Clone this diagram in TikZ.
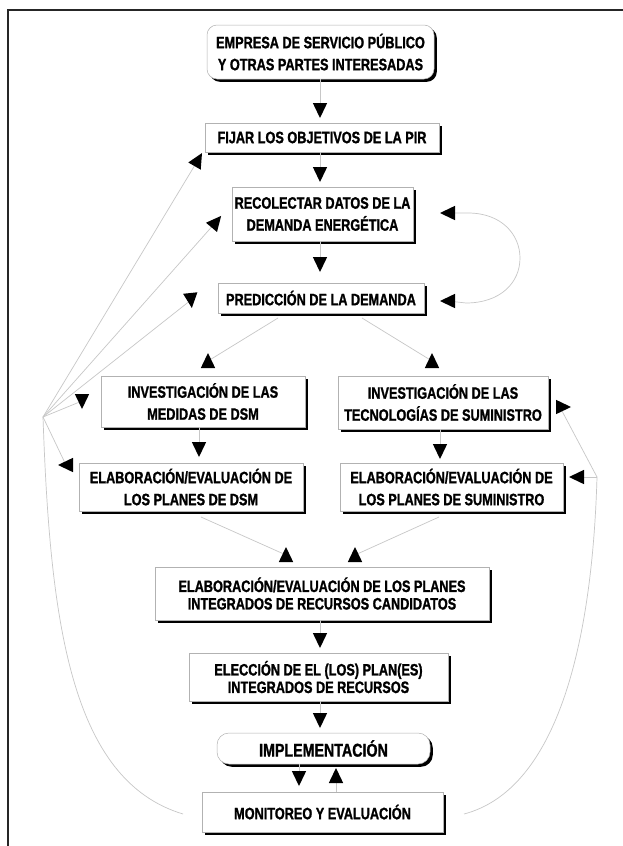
\documentclass[tikz,border=0pt]{standalone}
\usepackage{fontspec}
\newfontfamily\cf[FakeStretch=0.77,FakeBold=1.2]{Liberation Sans}
\usetikzlibrary{shadows,calc}
\begin{document}
\begin{tikzpicture}[x=1pt,y=-1pt,
  box/.style={draw=black!30, line width=0.5pt, fill=white, inner sep=0pt, align=center,
     font=\cf\bfseries\fontsize{16.5}{22}\selectfont,
     drop shadow={shadow xshift=2.8pt,shadow yshift=-2.8pt,opacity=1,fill=black}},
  tight/.style={font=\cf\bfseries\fontsize{16.5}{17.5}\selectfont},
  rbox/.style={box, rounded corners=10pt},
  conn/.style={draw=black!22, line width=0.7pt},
  tri/.pic={\fill[black] (8,0) -- (-7,7.2) -- (-7,-7.2) -- cycle;}]
\useasboundingbox (0,0) rectangle (623,846);
\fill[white] (0,0) rectangle (623,846);
\draw[line width=1.4pt, black!85] (8,846) -- (8,10) -- (623,10);

% boxes
\node[rbox, minimum width=227pt, minimum height=54pt] (b1) at (320.5,52) {EMPRESA DE SERVICIO PÚBLICO\\Y OTRAS PARTES INTERESADAS};
\node[box, minimum width=234pt, minimum height=29pt] (b2) at (322,137.5) {FIJAR LOS OBJETIVOS DE LA PIR};
\node[box, minimum width=181pt, minimum height=54pt] (b3) at (322.5,214) {RECOLECTAR DATOS DE LA\\DEMANDA ENERGÉTICA};
\node[box, minimum width=206pt, minimum height=30pt] (b4) at (321,298) {PREDICCIÓN DE LA DEMANDA};
\node[box, minimum width=204pt, minimum height=51pt] (b5) at (203,401.5) {INVESTIGACIÓN DE LAS\\MEDIDAS DE DSM};
\node[box, minimum width=210pt, minimum height=53pt] (b6) at (443,402.5) {INVESTIGACIÓN DE LAS\\TECNOLOGÍAS DE SUMINISTRO};
\node[box, minimum width=224pt, minimum height=48pt] (b7) at (191,487) {ELABORACIÓN/EVALUACIÓN DE\\LOS PLANES DE DSM};
\node[box, minimum width=223pt, minimum height=48pt] (b8) at (451.5,487) {ELABORACIÓN/EVALUACIÓN DE\\LOS PLANES DE SUMINISTRO};
\node[box, tight, minimum width=334pt, minimum height=53pt] (b9) at (322,593.5) {ELABORACIÓN/EVALUACIÓN DE LOS PLANES\\INTEGRADOS DE RECURSOS CANDIDATOS};
\node[box, tight, minimum width=259pt, minimum height=48pt] (b10) at (318.5,677) {ELECCIÓN DE EL (LOS) PLAN(ES)\\INTEGRADOS DE RECURSOS};
\node[box, rounded corners=12pt, font=\cf\bfseries\fontsize{18.5}{20}\selectfont, minimum width=213pt, minimum height=31pt] (b11) at (323.5,748.5) {IMPLEMENTACIÓN};
\node[box, minimum width=241pt, minimum height=40pt] (b12) at (322.5,812) {MONITOREO Y EVALUACIÓN};

% arrowhead positions
\coordinate (ta) at (320,110);
\coordinate (tb) at (320,174);
\coordinate (tc) at (320,264);
\coordinate (tl1) at (448,213);
\coordinate (tl2) at (448,301);
\coordinate (tp1) at (208,361);
\coordinate (tp2) at (432,361);
\coordinate (f2) at (198,160);
\coordinate (f3) at (216,222);
\coordinate (f4) at (191,300);
\coordinate (f5) at (82,401);
\coordinate (f6) at (66,465);
\coordinate (td) at (199,449);
\coordinate (te) at (440,451);
\coordinate (tf) at (286,555);
\coordinate (tg) at (355,555);
\coordinate (th) at (320,640);
\coordinate (ti) at (320,720);
\coordinate (tj) at (299,778);
\coordinate (tk) at (336,776);
\coordinate (r1) at (563,407);
\coordinate (r2) at (577,477);
% other connector ends
\coordinate (fan) at (43,417);
\coordinate (p1) at (278,318);
\coordinate (p2) at (362,318);
\coordinate (q1) at (201,517);
\coordinate (q2) at (439,517);
\coordinate (lc) at (183,814);
\coordinate (rc) at (464,814);
\coordinate (J) at (597,477);
\coordinate (r1e) at (562,411);

% connectors
\draw[conn] (ta |- b1.south) -- (ta);
\draw[conn] (tb |- b2.south) -- (tb);
\draw[conn] (tc |- b3.south) -- (tc);
\draw[conn] (tl1) -- (468,213) .. controls (502,213) and (520,235) .. (520,258) .. controls (520,283) and (500,303) .. (466,303) -- (tl2);
\draw[conn] (p1) -- (tp1);
\draw[conn] (p2) -- (tp2);
\draw[conn] (td |- b5.south) -- (td);
\draw[conn] (te |- b6.south) -- (te);
\draw[conn] (q1) -- (tf);
\draw[conn] (q2) -- (tg);
\draw[conn] (th |- b9.south) -- (th);
\draw[conn] (ti |- b10.south) -- (ti);
\draw[conn] (tj |- b11.south) -- (tj);
\draw[conn] (tk) -- (tk |- b12.north);
\draw[conn] (fan) -- (f2);
\draw[conn] (fan) -- (f3);
\draw[conn] (fan) -- (f4);
\draw[conn] (fan) -- (f5);
\draw[conn] (fan) -- (f6);
\draw[conn] (fan) .. controls (50,620) and (70,780) .. (lc);
\draw[conn] (rc) .. controls (555,790) and (592,650) .. (J);
\draw[conn] (J) -- (r2);
\draw[conn] (J) -- (r1e);

% arrowheads
\pic[rotate=-90] at (ta) {tri};
\pic[rotate=-90] at (tb) {tri};
\pic[rotate=-90] at (tc) {tri};
\pic[rotate=180] at (tl1) {tri};
\pic[rotate=180] at (tl2) {tri};
\pic[rotate=90] at (tp1) {tri};
\pic[rotate=90] at (tp2) {tri};
\pic[rotate=60] at (f2) {tri};
\pic[rotate=50] at (f3) {tri};
\pic[rotate=-84] at (f4) {tri};
\pic[rotate=-90] at (f5) {tri};
\pic[rotate=180] at (f6) {tri};
\pic[rotate=-90] at (td) {tri};
\pic[rotate=-90] at (te) {tri};
\pic[rotate=90] at (tf) {tri};
\pic[rotate=90] at (tg) {tri};
\pic[rotate=-90] at (th) {tri};
\pic[rotate=-90] at (ti) {tri};
\pic[rotate=-90] at (tj) {tri};
\pic[rotate=90] at (tk) {tri};
\pic[rotate=0] at (r1) {tri};
\pic[rotate=180] at (r2) {tri};
\end{tikzpicture}
\end{document}
